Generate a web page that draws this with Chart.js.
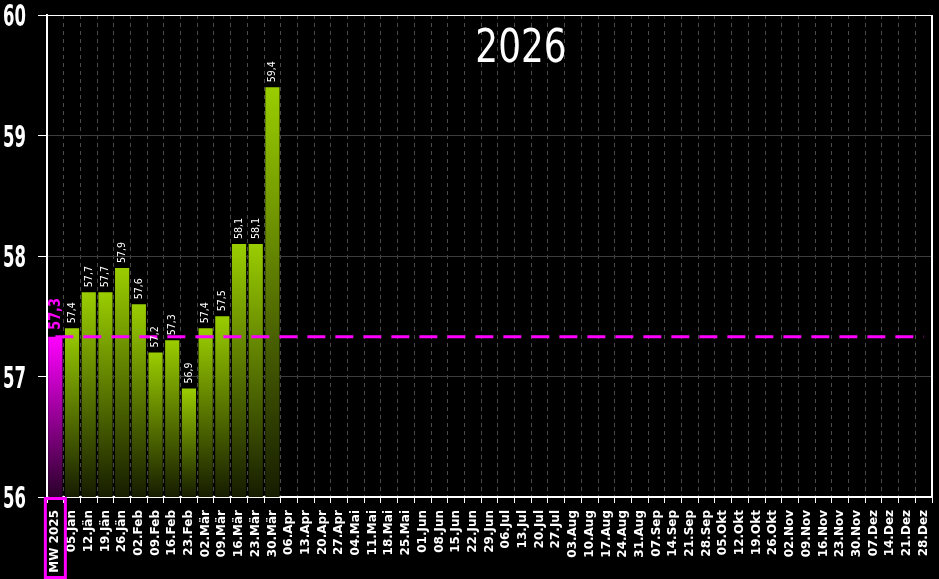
<!DOCTYPE html>
<html>
<head>
<meta charset="utf-8">
<script src="https://cdn.jsdelivr.net/npm/chart.js@4.4.1/dist/chart.umd.min.js"></script>
<style>
  html, body { margin: 0; background: #000; }
  #wrap { width: 939px; height: 579px; }
</style>
</head>
<body>
<div id="wrap"><canvas id="chart"></canvas></div>
<script>
const categories = [
    'MW 2025',
    '05.Jän', '12.Jän', '19.Jän', '26.Jän',
    '02.Feb', '09.Feb', '16.Feb', '23.Feb',
    '02.Mär', '09.Mär', '16.Mär', '23.Mär', '30.Mär',
    '06.Apr', '13.Apr', '20.Apr', '27.Apr',
    '04.Mai', '11.Mai', '18.Mai', '25.Mai',
    '01.Jun', '08.Jun', '15.Jun', '22.Jun', '29.Jun',
    '06.Jul', '13.Jul', '20.Jul', '27.Jul',
    '03.Aug', '10.Aug', '17.Aug', '24.Aug', '31.Aug',
    '07.Sep', '14.Sep', '21.Sep', '28.Sep',
    '05.Okt', '12.Okt', '19.Okt', '26.Okt',
    '02.Nov', '09.Nov', '16.Nov', '23.Nov', '30.Nov',
    '07.Dez', '14.Dez', '21.Dez', '28.Dez'
]
const mw2025 = 57.33
const weekly2026 = [57.4, 57.7, 57.7, 57.9, 57.6, 57.2, 57.3, 56.9, 57.4, 57.5, 58.1, 58.1, 59.4]
const yTicks = [56, 57, 58, 59, 60]
const titleText = '2026'

// bar data: first slot is the 2025 average, then the weeks that have values
const barValues = categories.map((c, i) => i === 0 ? mw2025 : (weekly2026[i - 1] ?? null))
const mwLine = categories.map(() => mw2025)

const fmt = (v) => v.toFixed(1).replace('.', ',')

function barFill(c) {
    const chart = c.chart
    const area = chart.chartArea
    const isMw = c.dataIndex === 0
    if (!area || c.raw == null) return isMw ? '#ff00ff' : '#9acd00'
    const top = chart.scales.y.getPixelForValue(c.raw)
    const g = chart.ctx.createLinearGradient(0, top, 0, area.bottom)
    if (isMw) {
        g.addColorStop(0, '#ff00ff')
        g.addColorStop(1, '#2a002a')
    } else {
        g.addColorStop(0, '#9acd00')
        g.addColorStop(1, '#161c00')
    }
    return g
}

const valueLabels = {
    id: 'valueLabels',
    afterDatasetsDraw(chart) {
        const ctx = chart.ctx
        const meta = chart.getDatasetMeta(1)
        meta.data.forEach((bar, i) => {
            const v = barValues[i]
            if (v == null) return
            const isMw = i === 0
            ctx.save()
            ctx.translate(bar.x, bar.y - (isMw ? 7 : 5))
            ctx.rotate(-Math.PI / 2)
            ctx.scale(isMw ? 0.8 : 0.86, 1)
            ctx.font = isMw ? 'bold 16px "DejaVu Sans"' : '11px "DejaVu Sans"'
            ctx.textAlign = 'left'
            ctx.textBaseline = 'middle'
            ctx.fillStyle = isMw ? '#ff00ff' : '#ffffff'
            ctx.fillText(fmt(v), 0, 0)
            ctx.restore()
        })
    }
}

const frame = {
    id: 'frame',
    afterDraw(chart) {
        const ctx = chart.ctx
        const area = chart.chartArea
        const ys = chart.scales.y
        const xs = chart.scales.x

        // right border
        ctx.save()
        ctx.strokeStyle = '#fff'
        ctx.lineWidth = 2
        ctx.beginPath()
        ctx.moveTo(area.right, area.top)
        ctx.lineTo(area.right, area.bottom)
        ctx.stroke()

        // y tick labels, narrow
        ctx.fillStyle = '#fff'
        ctx.textAlign = 'left'
        ctx.textBaseline = 'alphabetic'
        ys.ticks.forEach((t, i) => {
            const y = ys.getPixelForTick(i)
            ctx.save()
            ctx.translate(3, y + 11)
            ctx.scale(0.55, 1)
            ctx.font = 'bold 30px "DejaVu Sans"'
            ctx.fillText(String(t.value), 0, 0)
            ctx.restore()
        })

        // title
        ctx.save()
        ctx.translate(521, 62)
        ctx.scale(0.78, 1)
        ctx.font = '46px "DejaVu Sans"'
        ctx.textAlign = 'center'
        ctx.fillText(titleText, 0, 0)
        ctx.restore()

        // box around the MW 2025 label
        const x0 = xs.getPixelForTick(0)
        ctx.strokeStyle = '#ff00ff'
        ctx.lineWidth = 3
        ctx.strokeRect(x0 - 10, area.bottom + 1.5, 20, chart.height - area.bottom - 3)
        ctx.restore()
    }
}

const chart = new Chart(document.getElementById('chart').getContext('2d'), {
    type: 'bar',
    plugins: [valueLabels, frame],
    data: {
        labels: categories,
        datasets: [{
            type: 'line',
            data: mwLine,
            borderColor: '#ff00ff',
            borderWidth: 3,
            borderDash: [18, 10],
            pointRadius: 0,
            fill: false,
            order: 0
        }, {
            type: 'bar',
            data: barValues,
            backgroundColor: barFill,
            barPercentage: 0.85,
            categoryPercentage: 1,
            order: 1
        }]
    },
    options: {
        responsive: true,
        maintainAspectRatio: false,
        animation: false,
        layout: {
            padding: { top: 15, right: 7, left: 0, bottom: 0 }
        },
        plugins: {
            legend: { display: false },
            tooltip: { enabled: false }
        },
        scales: {
            x: {
                offset: true,
                grid: {
                    color: '#4a4a4a',
                    offset: true,
                    tickLength: 6,
                    tickColor: '#fff'
                },
                border: { color: '#fff', width: 2, dash: [4, 4] },
                ticks: {
                    color: '#fff',
                    font: { family: 'DejaVu Sans', size: 12, weight: 'bold' },
                    minRotation: 90,
                    maxRotation: 90,
                    autoSkip: false,
                    padding: 7
                },
                afterFit(s) {
                    s.height = 82
                    s.paddingLeft = 0
                    s.paddingRight = 0
                }
            },
            y: {
                min: yTicks[0],
                max: yTicks[yTicks.length - 1],
                grid: {
                    color: (c) => c.tick && (c.tick.value === yTicks[0] || c.tick.value === yTicks[yTicks.length - 1]) ? '#fff' : '#3d3d3d',
                    tickLength: 9,
                    tickColor: '#fff'
                },
                border: { color: '#fff', width: 2 },
                ticks: {
                    stepSize: 1,
                    color: 'rgba(0,0,0,0)',
                    font: { size: 12 }
                },
                afterFit(s) {
                    s.width = 47
                    s.paddingTop = 0
                    s.paddingBottom = 0
                }
            }
        }
    }
})
</script>
</body>
</html>
